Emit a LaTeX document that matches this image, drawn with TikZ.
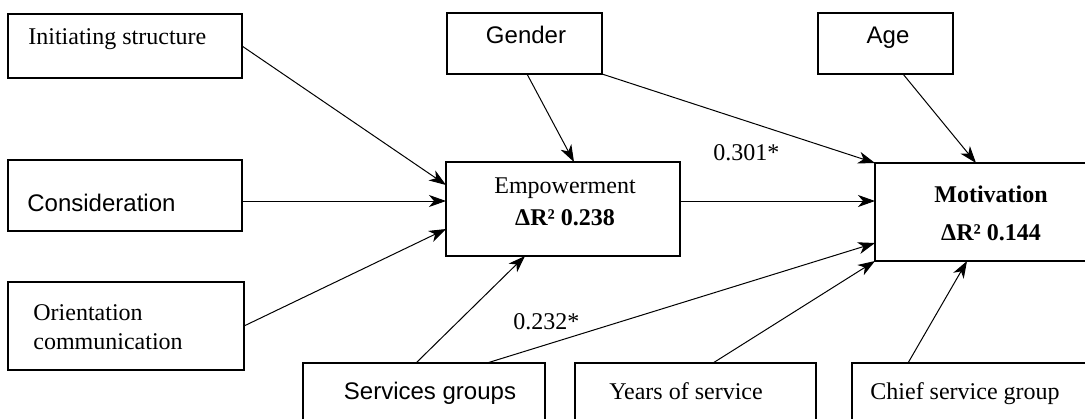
\documentclass[tikz,border=0pt]{standalone}
\usepackage{fontspec}
\setmainfont{Liberation Serif}
\setsansfont{Liberation Sans}
\usetikzlibrary{arrows.meta}
\begin{document}
\begin{tikzpicture}[x=0.5pt,y=-0.5pt,
  box/.style={draw, line width=0.65pt, anchor=north west, inner sep=0pt, outer sep=0pt},
  txt/.style={font=\fontsize{12pt}{14pt}\selectfont, inner sep=0pt},
  stxt/.style={font=\fontsize{12pt}{14pt}\selectfont\sffamily, inner sep=0pt},
  btxt/.style={font=\fontsize{12pt}{14pt}\selectfont\bfseries, inner sep=0pt},
  conn/.style={line width=0.5pt, -{Stealth[length=8.5pt,width=6pt,inset=2.5pt]}}]
\useasboundingbox (0,0) rectangle (1085,418);
\clip (0,0) rectangle (1085,418);
\fill[white] (0,0) rectangle (1085,418);
% boxes
\node[box, minimum width=117pt, minimum height=32pt] (init) at (8,14) {};
\node[box, minimum width=117pt, minimum height=35.5pt] (cons) at (8,160) {};
\node[box, minimum width=118pt, minimum height=44pt] (orient) at (8,282) {};
\node[box, minimum width=77.5pt, minimum height=30.5pt] (gender) at (447,13) {};
\node[box, minimum width=67.5pt, minimum height=30.5pt] (age) at (818,13) {};
\node[box, minimum width=117pt, minimum height=47pt] (emp) at (446,162) {};
\node[box, minimum width=112pt, minimum height=49pt] (mot) at (875,163) {};
\node[box, minimum width=121pt, minimum height=35pt] (serv) at (303,363) {};
\node[box, minimum width=120.5pt, minimum height=35pt] (years) at (575,363) {};
\node[box, minimum width=125pt, minimum height=35pt] (chief) at (852,363) {};
% texts
\node[txt, anchor=base west] (tinit) at (28,44) {Initiating structure};
\node[stxt, anchor=base west] (tcons) at (27,211) {Consideration};
\node[txt, anchor=base west] (tor1) at (33,320) {Orientation};
\node[txt, anchor=base west] (tor2) at (33,349) {communication};
\node[stxt, anchor=base] (tgender) at (526,43) {Gender};
\node[stxt, anchor=base] (tage) at (888,43) {Age};
\node[txt, anchor=base] (temp1) at (565,193) {Empowerment};
\node[btxt, anchor=base] (temp2) at (565,225) {ΔR² 0.238};
\node[btxt, anchor=base] (tmot1) at (991,202) {Motivation};
\node[btxt, anchor=base] (tmot2) at (991,240) {ΔR² 0.144};
\node[stxt, anchor=base] (tserv) at (430,399) {Services groups};
\node[txt, anchor=base] (tyears) at (686,399) {Years of service};
\node[txt, anchor=base west] (tchief) at (870,399) {Chief service group};
\node[txt, anchor=base west] (l301) at (713,160) {0.301*};
\node[txt, anchor=base west] (l232) at (513,329) {0.232*};
% connectors
\draw[conn] (init.east) -- ([yshift=12pt]emp.west);
\draw[conn] ([yshift=-2.75pt]cons.east) -- ([yshift=4pt]emp.west);
\draw[conn] (orient.east) -- ([yshift=-10pt]emp.west);
\draw[conn] ([xshift=1.25pt]gender.south) -- ([xshift=5.5pt]emp.north);
\draw[conn] (gender.south east) -- (mot.north west);
\draw[conn] ([xshift=8.75pt]age.south) -- ([xshift=50.5pt]mot.north west);
\draw[conn] ([yshift=4pt]emp.east) -- ([yshift=5.5pt]mot.west);
\draw[conn] ([xshift=-4pt]serv.north) -- ([xshift=-19pt]emp.south);
\draw[conn] ([xshift=31.5pt]serv.north) -- ([yshift=-15.5pt]mot.west);
\draw[conn] ([xshift=8.75pt]years.north) -- (mot.south west);
\draw[conn] ([xshift=28pt]chief.north west) -- ([xshift=46pt]mot.south west);
\end{tikzpicture}
\end{document}
